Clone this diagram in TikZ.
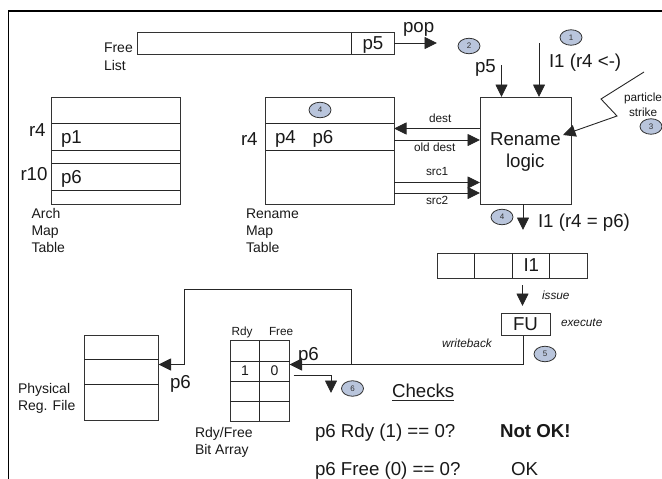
\documentclass[tikz,border=0pt]{standalone}
\usepackage{fontspec}
\setmainfont{Liberation Sans}
\usetikzlibrary{arrows.meta,shapes.geometric}
\tikzset{
  base/.style={inner sep=0pt,outer sep=0pt,anchor=base west,text=black!90},
  big/.style={base,font=\fontsize{18.7}{20}\selectfont},
  mid/.style={base,font=\fontsize{14}{16}\selectfont},
  tiny/.style={base,font=\fontsize{11.8}{14}\selectfont},
  tinyit/.style={base,font=\fontsize{11.8}{14}\selectfont\itshape},
  box/.style={draw=black!80,line width=0.9pt,inner sep=0pt,outer sep=0pt,anchor=north west,minimum width=#1},
  rowline/.style={draw=black!85,line width=0.9pt},
  wire/.style={draw=black!85,line width=0.9pt},
  arr/.style={wire,-{Triangle[length=12.5pt,width=12pt]}},
  badge/.style={ellipse,draw=black!80,line width=0.8pt,fill=badgefill,minimum width=22pt,minimum height=15.5pt,inner sep=0pt,font=\fontsize{8}{9}\selectfont,text=black!80}
}
\definecolor{badgefill}{HTML}{B9C5DC}
\begin{document}
\begin{tikzpicture}[x=1pt,y=-1pt]
\useasboundingbox (0,0) rectangle (662,479);
% frame
\coordinate (fa) at (8.5,479);
\coordinate (fb) at (8.5,11);
\coordinate (fc) at (662,11);
\draw[black,line width=1.5pt] (fa) -- (fb) -- (fc);

% free list
\node[box=256.5pt,minimum height=21.5pt] (free) at (137.5,32.5) {};
\coordinate (fd) at (351.5,32.5);
\draw[rowline] (fd) -- (fd |- free.south);
\node[big] at (362.5,49.5) {p5};
\node[mid] at (104,52) {Free};
\node[mid] at (104,70) {List};
\node[big] at (403,32) {pop};
\coordinate (popend) at (437,43);
\draw[arr] (free.east |- popend) -- (popend);

% arch map
\node[box=128.5pt,minimum height=107pt] (arch) at (51.5,97) {};
\foreach \y in {123.5,150.5,163.5,190.5} \draw[rowline] (arch.west |- 0,\y) -- (arch.east |- 0,\y);
\node[big] at (29,136) {r4};
\node[big] at (61,143) {p1};
\node[big] at (20.5,180) {r10};
\node[big] at (61,183) {p6};
\node[mid] at (31.5,218) {Arch};
\node[mid] at (31.5,235) {Map};
\node[mid] at (31.5,252) {Table};

% rename map
\node[box=128.5pt,minimum height=107pt] (rmap) at (265.5,97) {};
\foreach \y in {123.5,150.5} \draw[rowline] (rmap.west |- 0,\y) -- (rmap.east |- 0,\y);
\node[badge] (b4a) at (320,110) {4};
\node[big] at (241,145) {r4};
\node[big] at (275,143) {p4};
\node[big] at (312.5,143) {p6};
\node[mid] at (246,218) {Rename};
\node[mid] at (246,235) {Map};
\node[mid] at (246,252) {Table};

% rename logic
\node[box=91pt,minimum height=107pt] (logic) at (480,97) {};
\node[big] at (490,145) {Rename};
\node[big] at (506,167) {logic};
\coordinate (w1) at (480,128.5);
\coordinate (w2) at (480,140);
\coordinate (w3) at (480,182.5);
\coordinate (w4) at (480,193);
\draw[arr] (w1) -- (rmap.east |- w1);
\draw[arr] (rmap.east |- w2) -- (w2);
\draw[arr] (rmap.east |- w3) -- (w3);
\draw[arr] (rmap.east |- w4) -- (w4);
\node[tiny] at (429,122) {dest};
\node[tiny] at (414,151) {old dest};
\node[tiny] at (426,175) {src1};
\node[tiny] at (426,204) {src2};

% inputs
\coordinate (p5top) at (501.5,65);
\coordinate (i1top) at (539,43);
\draw[arr] (p5top) -- (p5top |- logic.north);
\draw[arr] (i1top) -- (i1top |- logic.north);
\node[big] at (475,72.7) {p5};
\node[big] at (549,67) {I1 (r4 <-)};
\node[badge] (b1) at (571,37.5) {1};
\node[badge] (b2) at (469,46) {2};

% particle strike
\coordinate (s1) at (644,72);
\coordinate (s2) at (601,99);
\coordinate (s3) at (617,116);
\coordinate (s4) at (563,135);
\draw[arr] (s1) -- (s2) -- (s3) -- (s4);
\node[tiny] at (624,101) {particle};
\node[tiny] at (629,116) {strike};
\node[badge] (b3) at (651,126.5) {3};

% rename output
\coordinate (out) at (523,230);
\draw[arr] (out |- logic.south) -- (out);
\node[badge] (b4b) at (502,217) {4};
\node[big] at (538,227) {I1 (r4 = p6)};

% issue queue
\node[box=150pt,minimum height=25pt] (queue) at (437,253) {};
\foreach \x in {474.5,512.5,549.5} \draw[rowline] (\x,253) -- (\x,278);
\node[big] at (523.5,271) {I1};

% FU
\node[box=49pt,minimum height=22pt] (fu) at (501,313.5) {};
\node[big] at (513,330) {FU};
\coordinate (is1) at (522.5,285);
\coordinate (is2) at (522.5,306);
\draw[arr] (is1) -- (is2);
\node[tinyit] at (542,299) {issue};
\node[tinyit] at (561,326) {execute};
\node[tinyit] at (442,347) {writeback};
\node[badge] (b5) at (545,354) {5};

% physical reg file
\node[box=74.5pt,minimum height=85.5pt] (prf) at (84,335) {};
\foreach \y in {359.5,384} \draw[rowline] (prf.west |- 0,\y) -- (prf.east |- 0,\y);
\node[mid] at (18,393) {Physical};
\node[mid] at (18,410) {Reg. File};
\node[big] at (170,388) {p6};

% bit array
\node[box=59.5pt,minimum height=80.5pt] (bits) at (230,340.5) {};
\coordinate (bm) at (259.5,340.5);
\draw[rowline] (bm) -- (bm |- bits.south);
\foreach \y in {361,381,401} \draw[rowline] (bits.west |- 0,\y) -- (bits.east |- 0,\y);
\node[tiny] at (231.5,335) {Rdy};
\node[tiny] at (269,335) {Free};
\node[mid] at (241,375) {1};
\node[mid] at (270.5,375) {0};
\node[mid] at (195,437) {Rdy/Free};
\node[mid] at (195,454) {Bit Array};
\node[big] at (298,360) {p6};

% writeback wires
\coordinate (wbc) at (523,364.5);
\coordinate (wbj) at (351.5,364.5);
\coordinate (wbu) at (351.5,289.5);
\coordinate (wbl) at (184,289.5);
\coordinate (wbd) at (184,364.5);
\draw[wire] (fu.south -| wbc) -- (wbc) -- (wbj);
\draw[arr] (wbj) -- (bits.east |- wbj);
\draw[arr] (wbj) -- (wbu) -- (wbl) -- (wbd) -- (prf.east |- wbd);

% check output
\coordinate (c0) at (293.5,375);
\coordinate (c1) at (331,375);
\coordinate (c2) at (331,393);
\draw[arr] (c0) -- (c1) -- (c2);
\node[badge] (b6) at (352.5,388.5) {6};

% checks
\node[big,name=chk] at (392,397) {Checks};
\draw[black!85,line width=1pt] (chk.base west |- 0,400) -- (chk.base east |- 0,400);
\node[big] at (315,437) {p6 Rdy (1) == 0?};
\node[big] at (315,475) {p6 Free (0) == 0?};
\node[big,font=\fontsize{18.7}{20}\selectfont\bfseries] at (500,437) {Not OK!};
\node[big] at (511,475) {OK};
\end{tikzpicture}
\end{document}
